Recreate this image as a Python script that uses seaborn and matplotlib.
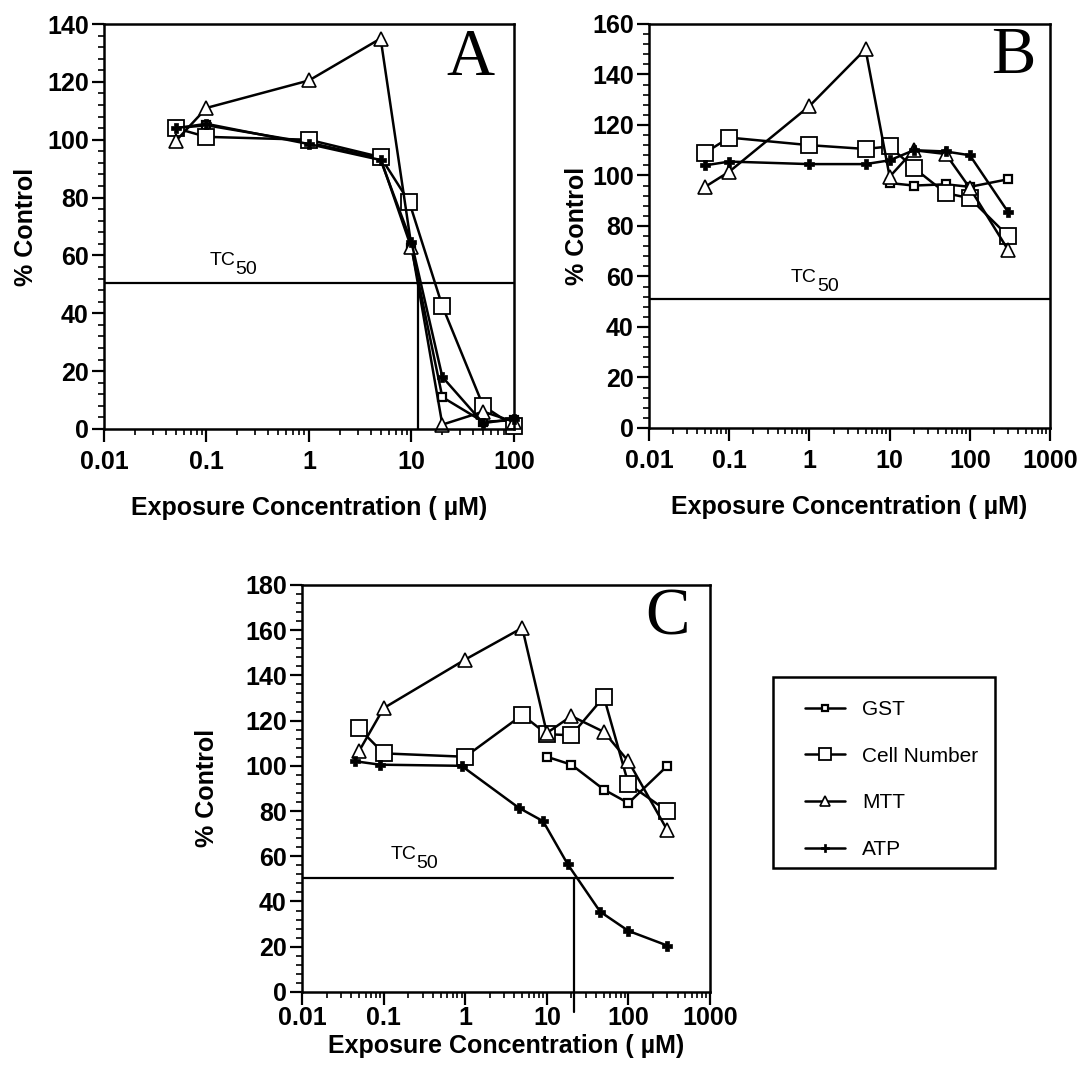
import matplotlib
matplotlib.use("Agg")
import pandas as pd
import seaborn as sns
import matplotlib.pyplot as plt
from matplotlib.patches import Rectangle
from matplotlib.ticker import FixedLocator, FuncFormatter, MultipleLocator, LogLocator, NullFormatter

# ---- data ----
# panel A
a_gst_x = [0.05, 0.1, 1, 5, 10, 20, 50, 100]
a_gst = [104, 105, 99, 93.5, 62.5, 11, 2.5, 3]
a_cell_x = [0.05, 0.1, 1, 5, 9.5, 20, 50, 100]
a_cell = [104, 101, 100, 94, 78.5, 42.5, 8, 1]
a_mtt_x = [0.05, 0.1, 1, 5, 10, 20, 50, 100]
a_mtt = [99.5, 111, 120.5, 135, 63, 1.5, 6, 2.5]
a_atp_x = [0.05, 0.1, 1, 5, 10, 20, 50, 100]
a_atp = [104, 105.5, 98.5, 93, 64.5, 18, 2, 3.5]

# panel B
b_gst_x = [10, 20, 50, 100, 300]
b_gst = [97, 96, 96.5, 95.5, 98.5]
b_cell_x = [0.05, 0.1, 1, 5, 10, 20, 50, 100, 300]
b_cell = [109, 115, 112, 110.5, 111.5, 103, 93, 91, 76]
b_mtt_x = [0.05, 0.1, 1, 5, 10, 20, 50, 100, 300]
b_mtt = [95.5, 101.5, 127.5, 150, 99.5, 110, 108.5, 95, 70.5]
b_atp_x = [0.05, 0.1, 1, 5, 10, 20, 50, 100, 300]
b_atp = [104, 105.5, 104.5, 104.5, 106, 110, 109.5, 108, 85.5]

# panel C
c_gst_x = [10, 20, 50, 100, 300]
c_gst = [104, 100.5, 89.5, 83.5, 100]
c_cell_x = [0.05, 0.1, 1, 5, 10, 20, 50, 100, 300]
c_cell = [116.5, 105.5, 104, 122.5, 114, 113.5, 130.5, 92, 80]
c_mtt_x = [0.05, 0.1, 1, 5, 10, 20, 50, 100, 300]
c_mtt = [106.5, 125.5, 147, 161, 114.5, 122, 115, 102, 71.5]
c_atp_x = [0.045, 0.09, 0.9, 4.5, 9, 18, 45, 100, 300]
c_atp = [102, 100.5, 100, 81.5, 75.5, 56.5, 35.5, 27, 20.5]

series_names = ["GST", "Cell Number", "MTT", "ATP"]
x_label = "Exposure Concentration ( \u00b5M)"
y_label = "% Control"

# ---- style ----
sns.set_style("ticks")
plt.rcParams["font.family"] = ["Liberation Sans", "DejaVu Sans"]
plt.rcParams["font.weight"] = "bold"
plt.rcParams["axes.labelweight"] = "bold"
for key in ["text.color", "axes.labelcolor", "xtick.color", "ytick.color", "axes.edgecolor"]:
    plt.rcParams[key] = "black"

marker_styles = {
    "GST": dict(marker="s", markersize=5.5, markerfacecolor="white", markeredgewidth=1.6),
    "Cell Number": dict(marker="s", markersize=11, markerfacecolor="white", markeredgewidth=1.3),
    "MTT": dict(marker="^", markersize=10, markerfacecolor="white", markeredgewidth=1.2),
    "ATP": dict(marker="P", markersize=7, markerfacecolor="black", markeredgewidth=0.5),
}

fig = plt.figure(figsize=(10.83, 10.74), dpi=100)
ax_a = fig.add_axes([0.096, 0.6006, 0.3786, 0.377])
ax_b = fig.add_axes([0.5993, 0.6015, 0.3703, 0.3762])
ax_c = fig.add_axes([0.2789, 0.0764, 0.3767, 0.379])


def draw_series(ax, xs, ys, name):
    df = pd.DataFrame({"conc": xs, "pct": ys})
    sns.lineplot(data=df, x="conc", y="pct", ax=ax, color="black", linewidth=1.8,
                 markeredgecolor="black", clip_on=False, label=name,
                 **marker_styles[name])


def style_axes(ax, xmax, ymax, letter, letter_pos, xpad, xlabelpad, ylabelpad):
    ax.set_xscale("log")
    ax.set_xlim(0.01, xmax)
    ax.set_ylim(0, ymax)
    decades = [10.0 ** k for k in range(-2, 4) if 10.0 ** k <= xmax]
    ax.xaxis.set_major_locator(FixedLocator(decades))
    ax.xaxis.set_major_formatter(FuncFormatter(lambda v, p: "%g" % v))
    ax.xaxis.set_minor_locator(LogLocator(base=10, subs=range(2, 10)))
    ax.xaxis.set_minor_formatter(NullFormatter())
    ax.yaxis.set_major_locator(MultipleLocator(20))
    ax.yaxis.set_minor_locator(MultipleLocator(4))
    ax.tick_params(axis="x", which="major", direction="out", length=9, width=1.6,
                   labelsize=18, pad=xpad, color="black", labelcolor="black")
    ax.tick_params(axis="y", which="major", direction="out", length=9, width=1.6,
                   labelsize=18, pad=2, color="black", labelcolor="black")
    ax.tick_params(which="minor", direction="out", length=4.5, width=1.2, color="black")
    for sp in ax.spines.values():
        sp.set_visible(True)
        sp.set_linewidth(1.8)
        sp.set_color("black")
    ax.set_xlabel(x_label, fontsize=18, labelpad=xlabelpad, color="black")
    ax.set_ylabel(y_label, fontsize=18, labelpad=ylabelpad, color="black")
    ax.text(letter_pos[0], letter_pos[1], letter, transform=ax.transAxes,
            ha="center", va="center", fontsize=48, fontweight="normal", color="black",
            family=["Liberation Serif", "DejaVu Serif"])
    if ax.get_legend() is not None:
        ax.get_legend().remove()


def tc50(ax, x, y):
    ax.text(x, y, "TC", fontsize=14, fontweight="normal", ha="left", va="baseline",
            color="black")
    ax.annotate("50", xy=(x, y), xytext=(18.5, -6.5), textcoords="offset points",
                fontsize=14, fontweight="normal", ha="left", va="baseline", color="black")


# panel A
for xs, ys, name in [(a_gst_x, a_gst, "GST"), (a_cell_x, a_cell, "Cell Number"),
                     (a_mtt_x, a_mtt, "MTT"), (a_atp_x, a_atp, "ATP")]:
    draw_series(ax_a, xs, ys, name)
ax_a.plot([0.01, 100], [50.5, 50.5], color="black", lw=1.6)
ax_a.plot([11.7, 11.7], [0, 50.5], color="black", lw=1.6)
tc50(ax_a, 0.108, 56.7)
style_axes(ax_a, 100, 140, "A", (0.893, 0.914), xpad=6, xlabelpad=16, ylabelpad=6.5)

# panel B
for xs, ys, name in [(b_gst_x, b_gst, "GST"), (b_cell_x, b_cell, "Cell Number"),
                     (b_mtt_x, b_mtt, "MTT"), (b_atp_x, b_atp, "ATP")]:
    draw_series(ax_b, xs, ys, name)
ax_b.plot([0.01, 1000], [51, 51], color="black", lw=1.6)
tc50(ax_b, 0.59, 57.8)
style_axes(ax_b, 1000, 160, "B", (0.908, 0.92), xpad=6, xlabelpad=16, ylabelpad=2)

# panel C
for xs, ys, name in [(c_gst_x, c_gst, "GST"), (c_cell_x, c_cell, "Cell Number"),
                     (c_mtt_x, c_mtt, "MTT"), (c_atp_x, c_atp, "ATP")]:
    draw_series(ax_c, xs, ys, name)
ax_c.plot([0.01, 350], [50.6, 50.6], color="black", lw=1.6)
ax_c.plot([21.5, 21.5], [-9, 50.6], color="black", lw=1.6, clip_on=False)
tc50(ax_c, 0.123, 59)
handles, labels = ax_c.get_legend_handles_labels()
style_axes(ax_c, 1000, 180, "C", (0.895, 0.919), xpad=1, xlabelpad=3, ylabelpad=18.5)

# legend: box drawn as a figure patch, entries placed inside it
fig.patches.append(Rectangle((773 / 1083, 1 - 868 / 1074), 222 / 1083, 191 / 1074,
                             transform=fig.transFigure, fill=False,
                             edgecolor="black", linewidth=1.8))
leg = fig.legend(handles[:4], labels[:4], loc="upper left",
                 bbox_to_anchor=(805 / 1083, 1 - 700 / 1074),
                 frameon=False, borderpad=0, borderaxespad=0, labelspacing=1.33,
                 handlelength=1.9, handletextpad=0.85, markerscale=0.75,
                 prop={"size": 15, "weight": "normal"})
for t in leg.get_texts():
    t.set_color("black")

fig.savefig("out.png", dpi=100, facecolor="white")
